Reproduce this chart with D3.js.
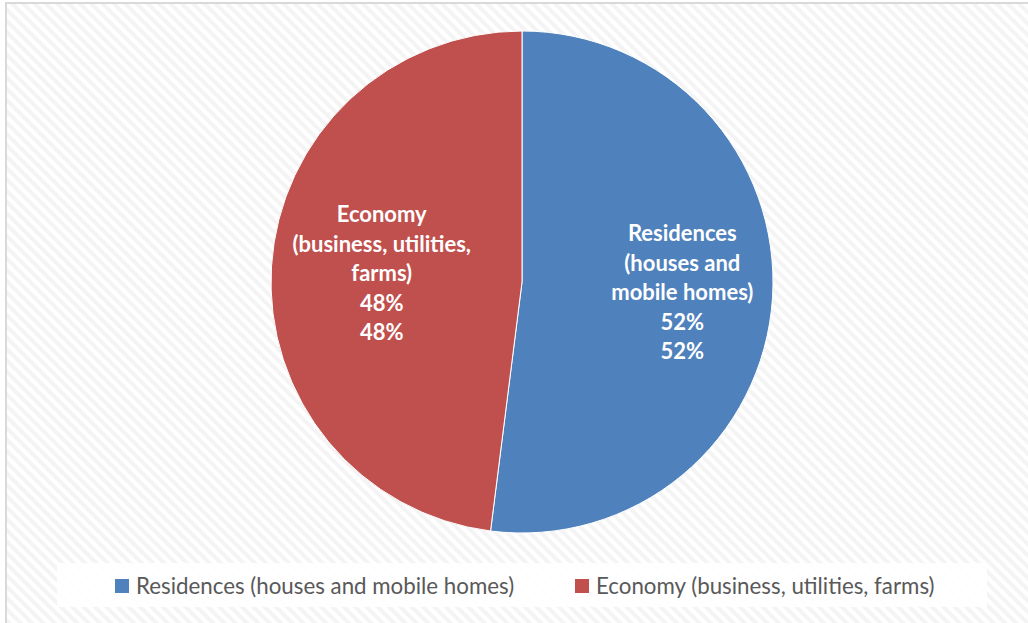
<!DOCTYPE html>
<html>
<head>
<meta charset="utf-8">
<script src="https://cdn.jsdelivr.net/npm/d3@7"></script>
<style>
  body { margin: 0; background: #fff; }
  svg { display: block; }
</style>
</head>
<body>
<div id="chart"></div>
<script>
var categories = ["Residences (houses and mobile homes)", "Economy (business, utilities, farms)"];
var labelLines = [["Residences", "(houses and", "mobile homes)"], ["Economy", "(business, utilities,", "farms)"]];
var values = [52, 48];
var colors = ["#4f81bd", "#c0504d"];

var totalWidth = 1028, totalHeight = 623;
var cx = 522, cy = 282, radius = 251;

var svg = d3.select("#chart").append("svg")
	.attr("width", totalWidth)
	.attr("height", totalHeight);

// hatched background like the office chart style
var defs = svg.append("defs");
var pat = defs.append("pattern")
	.attr("id", "hatch")
	.attr("width", 8)
	.attr("height", 8)
	.attr("patternUnits", "userSpaceOnUse")
	.attr("patternTransform", "rotate(45)");
pat.append("rect").attr("width", 8).attr("height", 8).attr("fill", "#ffffff");
pat.append("rect").attr("width", 8).attr("height", 4).attr("fill", "#f4f4f4");

svg.append("rect")
	.attr("x", 0).attr("y", 0)
	.attr("width", totalWidth).attr("height", totalHeight)
	.attr("fill", "#ffffff");

svg.append("rect")
	.attr("x", 6).attr("y", 3)
	.attr("width", totalWidth + 10).attr("height", totalHeight + 10)
	.attr("fill", "url(#hatch)")
	.attr("stroke", "#d9d9d9")
	.attr("stroke-width", 2);

var pie = d3.pie().sort(null).value(function (d) { return d; });
var arcs = pie(values);
var arc = d3.arc().innerRadius(0).outerRadius(radius);

var g = svg.append("g").attr("transform", "translate(" + cx + "," + cy + ")");

g.selectAll("path")
	.data(arcs)
	.enter()
	.append("path")
	.attr("d", arc)
	.attr("fill", function (d, i) { return colors[i]; })
	.attr("stroke", "#ffffff")
	.attr("stroke-width", 1);

var labelRadius = [0.64, 0.56];
var lineH = 29.5;

arcs.forEach(function (d, i) {
	var la = d3.arc().innerRadius(radius * labelRadius[i]).outerRadius(radius * labelRadius[i]);
	var c = la.centroid(d);
	var lines = labelLines[i].concat([values[i] + "%", values[i] + "%"]);
	var t = g.append("text")
		.attr("text-anchor", "middle")
		.attr("fill", "#ffffff")
		.style("font-family", "Lato, 'Open Sans', sans-serif")
		.style("font-weight", "bold")
		.style("font-size", "22px");
	lines.forEach(function (s, k) {
		t.append("tspan")
			.attr("x", c[0])
			.attr("y", c[1] + (k - 2) * lineH + 8)
			.text(s);
	});
});

// legend
var legend = svg.append("g");
legend.append("rect")
	.attr("x", 57).attr("y", 563)
	.attr("width", 930).attr("height", 44)
	.attr("fill", "#ffffff")
	.attr("opacity", 0.85);

var legendX = [115, 575];
categories.forEach(function (name, i) {
	legend.append("rect")
		.attr("x", legendX[i]).attr("y", 579)
		.attr("width", 14).attr("height", 14)
		.attr("fill", colors[i]);
	legend.append("text")
		.attr("x", legendX[i] + 21)
		.attr("y", 594)
		.attr("fill", "#595959")
		.style("font-family", "Lato, 'Open Sans', sans-serif")
		.style("font-size", "22.3px")
		.text(name);
});
</script>
</body>
</html>
